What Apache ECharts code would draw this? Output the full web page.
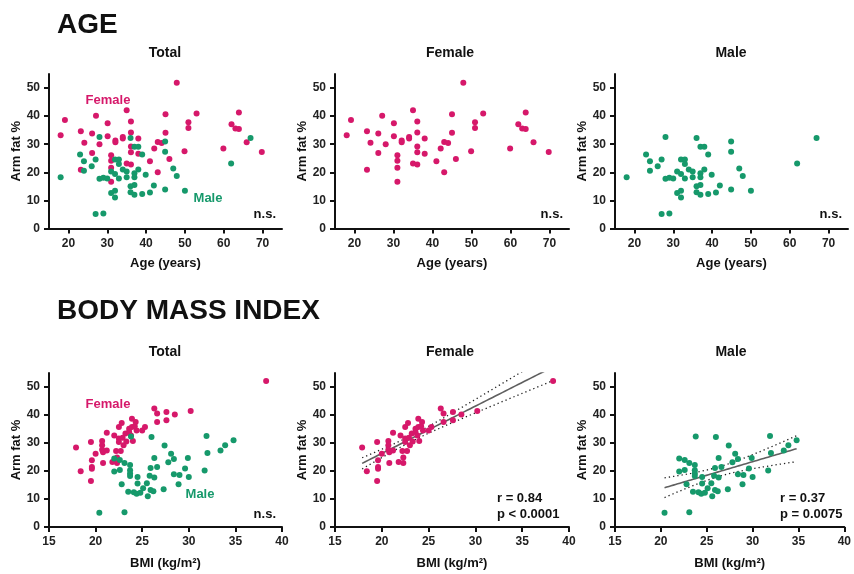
<!DOCTYPE html>
<html><head><meta charset="utf-8">
<script src="https://cdn.jsdelivr.net/npm/echarts@6/dist/echarts.min.js"></script>
<style>html,body{margin:0;padding:0;background:#fff}#c{width:854px;height:574px}</style>
</head><body><div id="c"></div>
<script>
// ---------- data ----------
const femaleAge = [18.0,19.1,23.2,23.2,24.1,26.1,26.1,27.1,28.0,30.1,30.1,31.0,31.0,31.0,31.0,32.1,32.1,34.0,34.0,35.0,35.0,36.1,36.1,36.1,36.1,36.1,38.0,38.0,41.0,42.1,43.0,43.0,44.0,45.0,45.0,46.0,47.9,49.9,50.9,50.9,53.0,59.9,62.0,63.0,63.9,63.9,65.9,69.8];
const femaleAgeFat = [33.2,38.6,34.6,20.9,30.5,33.8,26.9,40.1,30.0,37.5,32.8,26.1,24.1,21.6,16.6,31.3,30.7,32.6,32.0,42.1,23.1,38.1,34.2,29.2,27.1,22.8,32.0,26.6,23.9,28.5,30.8,20.0,30.4,40.7,34.1,24.7,51.9,27.5,37.8,35.8,40.9,28.5,37.1,35.6,41.3,35.4,30.7,27.2];
const maleAge = [18.0,23.0,24.0,24.0,26.0,27.0,27.0,28.0,28.0,29.0,29.0,30.0,31.0,31.0,32.0,32.0,32.0,32.0,33.0,33.0,33.0,34.0,35.0,35.0,36.0,36.0,36.0,37.0,37.0,37.0,37.0,37.0,38.0,38.0,39.0,39.0,39.9,41.0,42.0,44.9,44.9,44.9,47.0,47.9,50.0,61.9,66.9];
const maleAgeFat = [18.2,26.3,23.9,20.6,22.2,24.6,5.2,32.6,17.7,18.1,5.3,17.8,20.3,12.6,24.6,19.4,13.4,11.0,24.6,23.0,17.8,21.0,20.3,18.2,32.2,15.0,12.9,29.1,19.7,18.2,15.5,12.0,29.1,21.0,26.3,12.3,19.1,12.8,15.3,31.0,27.3,13.9,21.4,18.7,13.4,23.1,32.2];

const femaleBmi = [17.9,18.4,19.5,19.6,19.6,19.6,19.5,20.0,20.7,20.7,20.7,20.8,20.8,21.2,21.2,21.8,22.0,22.2,22.3,22.3,22.5,22.5,22.5,22.7,22.8,22.9,23.0,23.2,23.3,23.6,23.6,23.8,23.9,23.9,24.0,24.3,24.4,24.2,25.0,25.3,26.3,26.6,26.6,27.6,27.6,28.5,30.2,38.3];
const femaleBmiFat = [28.4,19.9,30.4,23.8,21.4,20.8,16.4,26.2,30.7,29.2,27.6,26.7,22.9,33.7,27.3,23.2,32.7,27.1,24.8,22.9,35.7,31.6,30.4,27.1,37.1,31.9,29.2,33.4,30.5,35.1,33.9,32.7,38.7,35.7,30.7,37.5,34.5,36.0,34.5,35.7,42.3,40.5,37.5,41.1,38.1,40.2,41.4,52.1];
const maleBmi = [20.4,23.1,23.8,26.0,27.4,31.9,34.8,33.9,33.4,32.0,22.0,22.6,23.1,23.7,26.3,28.1,28.4,27.8,29.9,22.0,22.6,23.7,23.7,23.7,24.5,25.9,26.6,25.8,26.3,28.4,29.0,29.6,30.0,31.7,22.8,24.5,25.5,28.9,23.5,24.1,24.4,24.8,25.1,25.6,25.9,26.2,27.3];
const maleBmiFat = [5.1,5.3,32.3,32.1,29.1,32.5,31.0,29.2,27.3,26.4,24.5,23.9,22.9,22.1,24.6,26.2,24.3,23.1,24.6,19.8,20.4,20.3,19.1,18.2,17.9,21.1,21.4,18.3,17.7,18.8,18.6,20.9,17.9,20.2,15.3,15.5,15.6,15.3,12.6,12.4,11.9,12.2,13.8,11.0,13.2,12.8,13.5];

const yTicks = [0,10,20,30,40,50];
const ageTicks = [20,30,40,50,60,70];
const bmiTicks = [15,20,25,30,35,40];
const femaleStats = ['r = 0.84','p < 0.0001'];
const maleStats = ['r = 0.37','p = 0.0075'];

// ---------- style ----------
const FONT = '"Liberation Sans", Arial, Helvetica, sans-serif';
const PINK = '#D6186A', GREEN = '#16996B', INK = '#111';

function zip(a,b){ return a.map((v,i)=>[v,b[i]]); }

function regress(xs, ys, t){
  const n = xs.length;
  const mx = xs.reduce((s,v)=>s+v,0)/n, my = ys.reduce((s,v)=>s+v,0)/n;
  let sxx=0, sxy=0;
  for(let i=0;i<n;i++){ sxx+=(xs[i]-mx)**2; sxy+=(xs[i]-mx)*(ys[i]-my); }
  const b = sxy/sxx, a = my - b*mx;
  let sse=0; for(let i=0;i<n;i++){ sse+=(ys[i]-a-b*xs[i])**2; }
  const s = Math.sqrt(sse/(n-2));
  const x0 = Math.min(...xs), x1 = Math.max(...xs);
  const line=[], up=[], lo=[];
  const steps=60;
  for(let k=0;k<=steps;k++){
    const x = x0+(x1-x0)*k/steps, yh=a+b*x;
    const h = t*s*Math.sqrt(1/n+(x-mx)**2/sxx);
    line.push([x,yh]); up.push([x,yh+h]); lo.push([x,yh-h]);
  }
  return {line, up, lo};
}

const grids = [
  {left:49, top:74, width:233, height:154.5},
  {left:335, top:74, width:234, height:154.5},
  {left:615, top:74, width:233, height:154.5},
  {left:49, top:373, width:233, height:154},
  {left:335, top:373, width:234, height:154},
  {left:615, top:373, width:233, height:154}
];

const labelStyle = {fontFamily:FONT, fontWeight:'bold', fontSize:12, color:'#222'};
function xAxis(i){
  const isAge = i<3;
  const ticks = isAge ? ageTicks : bmiTicks;
  return {
    type:'value', gridIndex:i,
    min:15, max: isAge?75:40,
    name: isAge ? 'Age (years)' : 'BMI (kg/m²)',
    nameLocation:'middle', nameGap: isAge ? 28 : 30,
    nameTextStyle:{fontFamily:FONT, fontWeight:'bold', fontSize:13, color:INK},
    axisLine:{show:true, onZero:false, lineStyle:{color:INK, width:2}},
    axisTick:{show:true, length:5, lineStyle:{color:INK, width:2}, customValues:ticks},
    axisLabel:Object.assign({customValues:ticks, margin:9}, labelStyle),
    splitLine:{show:false}
  };
}
function yAxis(i){
  return {
    type:'value', gridIndex:i, min:0, max:55,
    name:'Arm fat %', nameLocation:'middle', nameGap:21,
    nameTextStyle:{fontFamily:FONT, fontWeight:'bold', fontSize:13, color:INK},
    axisLine:{show:true, onZero:false, lineStyle:{color:INK, width:2}},
    axisTick:{show:true, length:5, lineStyle:{color:INK, width:2}, customValues:yTicks},
    axisLabel:Object.assign({customValues:yTicks, margin:9}, labelStyle),
    splitLine:{show:false}
  };
}

function scatter(i, xs, ys, color){
  return {type:'scatter', xAxisIndex:i, yAxisIndex:i, data:zip(xs,ys), symbol:'circle', symbolSize:6,
    itemStyle:{color:color, opacity:1}, silent:true, z:3};
}
function fitSeries(i, fit){
  return [
    {type:'line', xAxisIndex:i, yAxisIndex:i, data:fit.line, showSymbol:false, symbol:'none', silent:true, z:2,
      lineStyle:{color:'#5f5f5f', width:1.6}},
    {type:'line', xAxisIndex:i, yAxisIndex:i, data:fit.up, showSymbol:false, symbol:'none', silent:true, z:2,
      lineStyle:{color:'#222', width:1.3, type:[1.3,3]}},
    {type:'line', xAxisIndex:i, yAxisIndex:i, data:fit.lo, showSymbol:false, symbol:'none', silent:true, z:2,
      lineStyle:{color:'#222', width:1.3, type:[1.3,3]}}
  ];
}

const fFit = regress(femaleBmi, femaleBmiFat, 2.013);
const mFit = regress(maleBmi, maleBmiFat, 2.014);

function txt(x, y, text, opt){
  opt = opt||{};
  return {type:'text', x:x, y:y, silent:true, z:10,
    style:{text:text, fill:opt.color||INK,
      font:'bold '+(opt.size||13)+'px '+FONT,
      textAlign:opt.align||'center', align:opt.align||'center',
      textVerticalAlign:opt.valign||'middle', verticalAlign:opt.valign||'middle'}};
}

const option = {
  animation:false,
  backgroundColor:'#ffffff',
  grid:grids,
  xAxis:grids.map((g,i)=>xAxis(i)),
  yAxis:grids.map((g,i)=>yAxis(i)),
  series:[
    scatter(0, femaleAge, femaleAgeFat, PINK),
    scatter(0, maleAge, maleAgeFat, GREEN),
    scatter(1, femaleAge, femaleAgeFat, PINK),
    scatter(2, maleAge, maleAgeFat, GREEN),
    scatter(3, femaleBmi, femaleBmiFat, PINK),
    scatter(3, maleBmi, maleBmiFat, GREEN),
    ...fitSeries(4, fFit),
    scatter(4, femaleBmi, femaleBmiFat, PINK),
    ...fitSeries(5, mFit),
    scatter(5, maleBmi, maleBmiFat, GREEN)
  ],
  graphic:[
    txt(57, 25, 'AGE', {size:28, align:'left'}),
    txt(57, 311, 'BODY MASS INDEX', {size:28, align:'left'}),
    txt(165, 53, 'Total', {size:14}),
    txt(450, 53, 'Female', {size:14}),
    txt(731, 53, 'Male', {size:14}),
    txt(165, 352, 'Total', {size:14}),
    txt(450, 352, 'Female', {size:14}),
    txt(731, 352, 'Male', {size:14}),
    txt(108, 100, 'Female', {color:PINK}),
    txt(208, 198, 'Male', {color:GREEN}),
    txt(108, 404, 'Female', {color:PINK}),
    txt(200, 494, 'Male', {color:GREEN}),
    txt(276, 221, 'n.s.', {align:'right', valign:'bottom'}),
    txt(563, 221, 'n.s.', {align:'right', valign:'bottom'}),
    txt(842, 221, 'n.s.', {align:'right', valign:'bottom'}),
    txt(276, 521, 'n.s.', {align:'right', valign:'bottom'}),
    txt(497, 505, femaleStats[0], {align:'left', valign:'bottom'}),
    txt(497, 521, femaleStats[1], {align:'left', valign:'bottom'}),
    txt(780, 505, maleStats[0], {align:'left', valign:'bottom'}),
    txt(780, 521, maleStats[1], {align:'left', valign:'bottom'})
  ]
};
const chart = echarts.init(document.getElementById('c'), null, {renderer:'canvas'});
chart.setOption(option);
</script></body></html>
